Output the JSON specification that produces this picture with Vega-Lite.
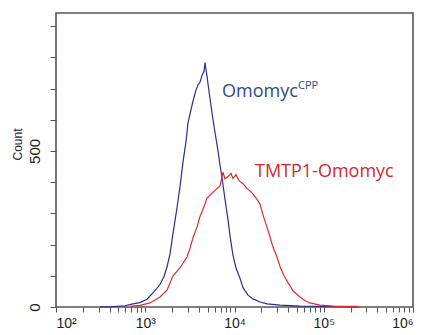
{
  "$schema": "https://vega.github.io/schema/vega-lite/v6.json",
  "width": 357,
  "height": 294,
  "autosize": "none",
  "padding": {"left": 56, "top": 13, "right": 14, "bottom": 28},
  "background": "white",
  "config": {
    "view": {"stroke": "#555", "strokeWidth": 1.6},
    "axis": {"grid": false, "domain": false, "tickColor": "#555", "labelColor": "#222", "labelFont": "Liberation Sans", "titleFont": "Liberation Sans", "labelOverlap": false},
    "axisX": {
      "title": null, "tickSize": 5, "labelFontSize": 14, "labelPadding": 4,
      "values": [100, 200, 300, 400, 500, 600, 700, 800, 900, 1000, 2000, 3000, 4000, 5000, 6000, 7000, 8000, 9000, 10000, 20000, 30000, 40000, 50000, 60000, 70000, 80000, 90000, 100000, 200000, 300000, 400000, 500000, 600000, 700000, 800000, 900000, 1000000],
      "labelExpr": "datum.value == 100 ? '10²' : datum.value == 1000 ? '10³' : datum.value == 10000 ? '10⁴' : datum.value == 100000 ? '10⁵' : datum.value == 1000000 ? '10⁶' : ''"
    },
    "axisY": {
      "titleFontWeight": "normal", "titleFontSize": 12, "titleColor": "#222", "titleY": 131, "titleX": -32,
      "tickSize": 6, "labelFontSize": 15, "labelAngle": -90, "labelAlign": "center", "labelBaseline": "bottom", "labelPadding": 8,
      "values": [0, 100, 200, 300, 400, 500, 600, 700, 800, 900],
      "labelExpr": "datum.value == 0 || datum.value == 500 ? datum.label : ''"
    }
  },
  "datasets": {
    "hist": [
      {"s": "Omomyc", "x": 311, "c": 0}, {"s": "Omomyc", "x": 435, "c": 1}, {"s": "Omomyc", "x": 593, "c": 4}, {"s": "Omomyc", "x": 729, "c": 10},
      {"s": "Omomyc", "x": 873, "c": 14}, {"s": "Omomyc", "x": 1046, "c": 25}, {"s": "Omomyc", "x": 1221, "c": 45}, {"s": "Omomyc", "x": 1463, "c": 72},
      {"s": "Omomyc", "x": 1622, "c": 98}, {"s": "Omomyc", "x": 1752, "c": 128}, {"s": "Omomyc", "x": 1894, "c": 170}, {"s": "Omomyc", "x": 2046, "c": 235},
      {"s": "Omomyc", "x": 2268, "c": 318}, {"s": "Omomyc", "x": 2451, "c": 385}, {"s": "Omomyc", "x": 2649, "c": 465}, {"s": "Omomyc", "x": 2862, "c": 530},
      {"s": "Omomyc", "x": 3013, "c": 590}, {"s": "Omomyc", "x": 3172, "c": 618}, {"s": "Omomyc", "x": 3340, "c": 646}, {"s": "Omomyc", "x": 3517, "c": 672},
      {"s": "Omomyc", "x": 3703, "c": 695}, {"s": "Omomyc", "x": 3899, "c": 712}, {"s": "Omomyc", "x": 4105, "c": 720}, {"s": "Omomyc", "x": 4324, "c": 742},
      {"s": "Omomyc", "x": 4553, "c": 755}, {"s": "Omomyc", "x": 4672, "c": 783}, {"s": "Omomyc", "x": 4793, "c": 760}, {"s": "Omomyc", "x": 4919, "c": 740},
      {"s": "Omomyc", "x": 5048, "c": 715}, {"s": "Omomyc", "x": 5314, "c": 668}, {"s": "Omomyc", "x": 5742, "c": 600}, {"s": "Omomyc", "x": 6046, "c": 560},
      {"s": "Omomyc", "x": 6535, "c": 500}, {"s": "Omomyc", "x": 6879, "c": 455}, {"s": "Omomyc", "x": 7243, "c": 415}, {"s": "Omomyc", "x": 7826, "c": 345},
      {"s": "Omomyc", "x": 8456, "c": 280}, {"s": "Omomyc", "x": 8904, "c": 228}, {"s": "Omomyc", "x": 9620, "c": 165}, {"s": "Omomyc", "x": 10395, "c": 125},
      {"s": "Omomyc", "x": 11526, "c": 92}, {"s": "Omomyc", "x": 12453, "c": 62}, {"s": "Omomyc", "x": 14168, "c": 38}, {"s": "Omomyc", "x": 16118, "c": 26},
      {"s": "Omomyc", "x": 19310, "c": 16}, {"s": "Omomyc", "x": 23125, "c": 10}, {"s": "Omomyc", "x": 32340, "c": 6}, {"s": "Omomyc", "x": 54170, "c": 3},
      {"s": "Omomyc", "x": 90780, "c": 2}, {"s": "Omomyc", "x": 152100, "c": 1}, {"s": "Omomyc", "x": 235800, "c": 0},
      {"s": "TMTP1", "x": 675, "c": 2}, {"s": "TMTP1", "x": 873, "c": 5}, {"s": "TMTP1", "x": 1130, "c": 13}, {"s": "TMTP1", "x": 1463, "c": 32},
      {"s": "TMTP1", "x": 1752, "c": 54}, {"s": "TMTP1", "x": 2046, "c": 100}, {"s": "TMTP1", "x": 2451, "c": 125}, {"s": "TMTP1", "x": 2937, "c": 160},
      {"s": "TMTP1", "x": 3172, "c": 188}, {"s": "TMTP1", "x": 3428, "c": 222}, {"s": "TMTP1", "x": 3800, "c": 256}, {"s": "TMTP1", "x": 4105, "c": 290},
      {"s": "TMTP1", "x": 4324, "c": 305}, {"s": "TMTP1", "x": 4672, "c": 330}, {"s": "TMTP1", "x": 4919, "c": 350}, {"s": "TMTP1", "x": 5314, "c": 358},
      {"s": "TMTP1", "x": 5742, "c": 368}, {"s": "TMTP1", "x": 6368, "c": 380}, {"s": "TMTP1", "x": 6879, "c": 388}, {"s": "TMTP1", "x": 7431, "c": 432},
      {"s": "TMTP1", "x": 7826, "c": 410}, {"s": "TMTP1", "x": 8456, "c": 418}, {"s": "TMTP1", "x": 9136, "c": 428}, {"s": "TMTP1", "x": 9620, "c": 412},
      {"s": "TMTP1", "x": 10395, "c": 424}, {"s": "TMTP1", "x": 11230, "c": 405}, {"s": "TMTP1", "x": 12453, "c": 395}, {"s": "TMTP1", "x": 13810, "c": 380},
      {"s": "TMTP1", "x": 14920, "c": 372}, {"s": "TMTP1", "x": 16118, "c": 362}, {"s": "TMTP1", "x": 17870, "c": 345}, {"s": "TMTP1", "x": 19310, "c": 330},
      {"s": "TMTP1", "x": 20860, "c": 295}, {"s": "TMTP1", "x": 23125, "c": 256}, {"s": "TMTP1", "x": 24990, "c": 225}, {"s": "TMTP1", "x": 26990, "c": 192},
      {"s": "TMTP1", "x": 29940, "c": 160}, {"s": "TMTP1", "x": 32340, "c": 130}, {"s": "TMTP1", "x": 35850, "c": 100}, {"s": "TMTP1", "x": 39760, "c": 78},
      {"s": "TMTP1", "x": 45230, "c": 52}, {"s": "TMTP1", "x": 54170, "c": 32}, {"s": "TMTP1", "x": 61660, "c": 20}, {"s": "TMTP1", "x": 70150, "c": 13},
      {"s": "TMTP1", "x": 90780, "c": 6}, {"s": "TMTP1", "x": 126950, "c": 3}, {"s": "TMTP1", "x": 235800, "c": 2}, {"s": "TMTP1", "x": 254800, "c": 0}
    ],
    "labels": [
      {"t": "Omomyc", "x": 7243, "c": 672, "k": "main", "s": "Omomyc"},
      {"t": "CPP", "x": 51450, "c": 700, "k": "sup", "s": "Omomyc"},
      {"t": "TMTP1-Omomyc", "x": 16970, "c": 416, "k": "main", "s": "TMTP1"}
    ]
  },
  "encoding": {
    "x": {"field": "x", "type": "quantitative", "scale": {"type": "log", "domain": [100, 1000000], "nice": false}},
    "y": {"field": "c", "type": "quantitative", "scale": {"domain": [0, 942], "nice": false}, "title": "Count"}
  },
  "layer": [
    {
      "data": {"name": "hist"},
      "mark": {"type": "line", "strokeWidth": 1.2, "interpolate": "linear"},
      "encoding": {
        "color": {
          "field": "s", "type": "nominal",
          "scale": {"domain": ["Omomyc", "TMTP1"], "range": ["#2a2e91", "#e32a2c"]},
          "legend": null
        }
      }
    },
    {
      "data": {"name": "labels"},
      "transform": [{"filter": "datum.k == 'main'"}],
      "mark": {"type": "text", "align": "left", "baseline": "alphabetic", "font": "Open Sans", "fontSize": 18},
      "encoding": {
        "text": {"field": "t"},
        "color": {
          "field": "s", "type": "nominal",
          "scale": {"domain": ["Omomyc", "TMTP1"], "range": ["#2e4a8e", "#d9262b"]},
          "legend": null
        }
      }
    },
    {
      "data": {"name": "labels"},
      "transform": [{"filter": "datum.k == 'sup'"}],
      "mark": {"type": "text", "align": "left", "baseline": "alphabetic", "font": "Open Sans", "fontSize": 11, "color": "#2e4a8e"},
      "encoding": {
        "text": {"field": "t"}
      }
    }
  ],
  "resolve": {"scale": {"color": "independent"}}
}
